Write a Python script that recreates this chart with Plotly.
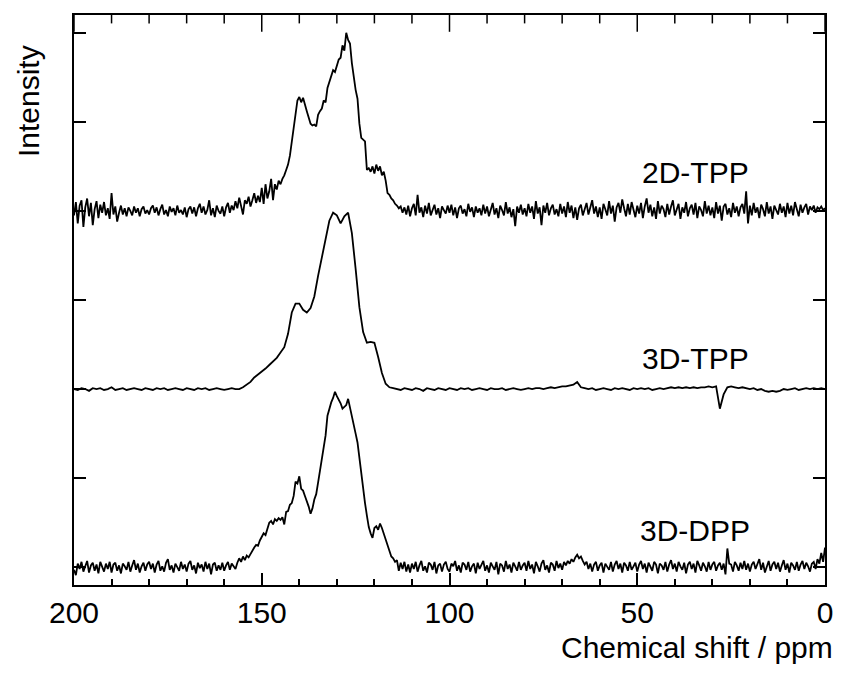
import plotly.graph_objects as go

# Chemical shift grids (ppm), 200 -> 0
ppm_fine = [200 - 0.5 * i for i in range(401)]     # 0.5 ppm steps
ppm_coarse = list(range(200, -1, -1))              # 1 ppm steps

# 2D-TPP, intensity above its own baseline, 0.5 ppm steps (200 -> 0)
tpp_2d = [
    -0.05, 0.10, -0.14, 0.06, 0.12, -0.18, 0.04, 0.14, -0.06, 0.09, -0.16, 0.02, 0.11, -0.08, 0.07, -0.02, 0.10, -0.05, 0.03, -0.09,  # 200-190.5
    0.20, -0.04, 0.05, -0.12, -0.02, 0.06, -0.04, 0.03, -0.06, 0.04, 0.00, -0.05, 0.05, -0.02, 0.03, -0.06, 0.02, 0.05, -0.03, 0.01,   # 190-180.5
    -0.04, 0.03, 0.06, -0.02, 0.04, -0.05, 0.02, 0.07, -0.04, 0.01, -0.06, 0.05, -0.01, 0.03, -0.05, 0.06, -0.02, 0.01, -0.04, 0.04,  # 180-170.5
    -0.07, 0.02, 0.05, -0.03, 0.04, -0.06, 0.03, 0.08, -0.02, 0.05, -0.04, 0.01, 0.12, -0.05, 0.03, -0.07, 0.06, 0.00, -0.03, 0.05,   # 170-160.5
    -0.06, 0.04, 0.09, -0.02, 0.06, 0.01, 0.11, 0.03, 0.15, 0.06, -0.04, 0.12, 0.08, 0.16, 0.05, 0.12, 0.20, 0.09, 0.17, 0.10,        # 160-150.5
    0.26, 0.08, 0.30, 0.14, 0.22, 0.36, 0.12, 0.30, 0.24, 0.34, 0.30, 0.36, 0.40, 0.46, 0.52, 0.62, 0.78, 0.98, 1.12, 1.24,          # 150-140.5
    1.28, 1.22, 1.27, 1.18, 1.12, 1.05, 0.98, 0.96, 0.97, 0.95, 1.08, 1.12, 1.15, 1.24, 1.22, 1.38, 1.44, 1.50, 1.58, 1.56,          # 140-130.5
    1.64, 1.70, 1.72, 1.86, 1.80, 2.00, 1.92, 1.88, 1.66, 1.50, 1.36, 1.26, 0.98, 0.82, 0.80, 0.78, 0.46, 0.48, 0.44, 0.50,          # 130-120.5
    0.42, 0.52, 0.45, 0.50, 0.40, 0.44, 0.34, 0.20, 0.18, 0.14, 0.12, 0.08, 0.06, 0.03, 0.05, -0.02, 0.04, -0.04, 0.06, -0.06,        # 120-110.5
    0.03, 0.08, -0.05, 0.18, -0.02, 0.04, -0.07, 0.06, -0.03, 0.09, -0.05, 0.02, 0.07, -0.04, 0.03, -0.08, 0.05, 0.01, -0.03, 0.06,   # 110-100.5
    -0.02, 0.07, -0.05, 0.04, -0.08, 0.03, 0.06, -0.03, 0.02, -0.06, 0.08, -0.01, 0.04, -0.07, 0.05, -0.02, 0.03, -0.05, 0.07, -0.03, # 100-90.5
    0.05, -0.06, 0.02, 0.09, -0.04, 0.03, -0.08, 0.06, 0.01, -0.05, 0.10, -0.03, 0.04, -0.07, 0.02, -0.17, 0.05, -0.02, 0.07, -0.04,  # 90-80.5
    0.03, -0.06, 0.08, -0.02, 0.05, -0.09, 0.11, -0.03, 0.04, -0.16, 0.06, -0.02, 0.09, -0.05, 0.03, 0.07, -0.04, 0.02, -0.06, 0.08,  # 80-70.5
    -0.03, 0.05, -0.07, 0.10, -0.02, 0.06, -0.08, 0.04, -0.10, 0.03, 0.07, -0.05, 0.02, 0.09, -0.04, 0.06, 0.12, -0.03, 0.05, -0.07,  # 70-60.5
    0.04, -0.09, 0.08, 0.02, -0.05, 0.11, -0.03, 0.06, -0.12, 0.04, 0.09, -0.02, 0.13, 0.03, -0.06, 0.08, -0.04, 0.10, 0.01, -0.07,   # 60-50.5
    0.06, -0.03, 0.09, -0.08, 0.05, 0.14, -0.02, 0.07, -0.06, 0.04, -0.09, 0.11, -0.03, 0.06, 0.02, -0.07, 0.08, -0.04, 0.05, 0.12,   # 50-40.5
    -0.05, 0.03, 0.08, -0.09, 0.04, -0.02, 0.10, -0.06, 0.03, 0.07, -0.04, 0.09, -0.08, 0.05, 0.01, -0.06, 0.11, -0.03, 0.06, -0.05,  # 40-30.5
    0.04, -0.08, 0.10, -0.03, 0.06, -0.11, 0.05, 0.08, -0.04, 0.03, -0.07, 0.09, -0.02, 0.05, -0.06, 0.04, 0.08, -0.03, 0.22, -0.14,  # 30-20.5
    0.06, -0.05, 0.09, -0.02, 0.04, -0.08, 0.07, 0.02, -0.06, 0.10, -0.03, 0.05, -0.09, 0.06, 0.01, -0.04, 0.08, -0.02, 0.05, -0.07,  # 20-10.5
    0.09, -0.03, 0.06, -0.05, 0.10, 0.02, -0.06, 0.07, -0.02, 0.04, 0.08, -0.04, 0.05, 0.01, 0.06, -0.02, 0.04, 0.02, 0.05, 0.01,     # 10-0.5
    0.03,                                                                                                                            # 0
]

# 3D-TPP, intensity above its own baseline, 1 ppm steps (200 -> 0)
tpp_3d = [
    0.00, -0.01, 0.01, 0.00, -0.02, 0.01, 0.00, 0.01, -0.01, 0.00,     # 200-191
    0.02, -0.01, 0.00, 0.01, -0.01, 0.00, 0.01, 0.00, -0.01, 0.01,     # 190-181
    0.00, -0.01, 0.01, 0.00, 0.01, -0.01, 0.00, 0.01, 0.00, -0.01,     # 180-171
    0.01, 0.00, -0.01, 0.01, 0.00, 0.01, -0.01, 0.00, 0.01, 0.00,      # 170-161
    -0.01, 0.00, 0.01, 0.00, 0.00, 0.02, 0.05, 0.08, 0.13, 0.16,       # 160-151
    0.19, 0.23, 0.27, 0.31, 0.35, 0.41, 0.47, 0.62, 0.86, 0.96,        # 150-141
    0.96, 0.89, 0.86, 0.91, 1.04, 1.27, 1.47, 1.68, 1.89, 1.98,        # 140-131
    1.95, 1.86, 1.94, 1.98, 1.75, 1.35, 0.92, 0.64, 0.52, 0.53,        # 130-121
    0.52, 0.36, 0.18, 0.06, 0.02, 0.01, 0.00, -0.01, 0.01, 0.00,       # 120-111
    -0.01, 0.01, 0.00, -0.02, 0.01, 0.00, -0.01, 0.01, 0.00, -0.01,    # 110-101
    0.01, 0.00, -0.01, 0.01, 0.00, 0.01, -0.01, 0.00, 0.01, 0.00,      # 100-91
    -0.01, 0.01, 0.00, 0.00, 0.01, -0.01, 0.00, 0.01, 0.00, -0.01,     # 90-81
    0.00, 0.01, 0.00, 0.01, 0.01, 0.00, 0.01, 0.02, 0.01, 0.02,        # 80-71
    0.03, 0.03, 0.04, 0.05, 0.08, 0.02, 0.01, 0.00, 0.01, -0.01,       # 70-61
    0.00, 0.01, 0.00, -0.01, 0.01, 0.00, 0.01, 0.00, -0.01, 0.01,      # 60-51
    0.00, 0.01, 0.00, 0.01, -0.01, 0.00, 0.01, 0.00, 0.01, 0.02,       # 50-41
    0.01, 0.02, 0.01, 0.02, 0.01, 0.02, 0.01, 0.02, 0.02, 0.03,        # 40-31
    0.02, 0.03, -0.22, -0.06, 0.02, 0.03, 0.02, 0.01, 0.02, 0.01,      # 30-21
    0.00, 0.01, -0.01, 0.00, -0.02, -0.03, -0.02, -0.03, -0.02, 0.00,  # 20-11
    -0.01, 0.00, 0.01, -0.01, 0.00, 0.01, 0.00, 0.01, 0.00, 0.01,      # 10-1
    0.00,                                                              # 0
]

# 3D-DPP, intensity above its own baseline, 0.5 ppm steps (200 -> 0)
dpp_3d = [
    -0.03, -0.09, 0.04, -0.02, 0.06, -0.05, 0.01, 0.07, -0.06, 0.02, 0.05, -0.04, 0.03, -0.07, 0.06, 0.00, -0.05, 0.04, -0.02, 0.06,  # 200-190.5
    -0.06, 0.03, 0.05, -0.04, 0.02, -0.07, 0.04, 0.01, -0.03, 0.06, -0.05, 0.02, 0.08, -0.03, 0.04, -0.06, 0.01, 0.05, -0.04, 0.03,   # 190-180.5
    0.06, -0.02, 0.04, -0.06, 0.03, 0.07, -0.04, 0.01, -0.05, 0.05, 0.09, -0.03, 0.02, -0.06, 0.04, 0.00, -0.04, 0.06, -0.02, 0.03,   # 180-170.5
    -0.05, 0.04, 0.07, -0.03, 0.02, -0.07, 0.05, -0.01, 0.03, -0.05, 0.06, -0.02, 0.04, -0.08, 0.03, 0.05, -0.04, 0.02, -0.03, 0.05,  # 170-160.5
    -0.04, 0.02, 0.06, -0.03, 0.04, 0.01, -0.02, 0.05, 0.10, 0.06, 0.12, 0.08, 0.13, 0.11, 0.15, 0.18, 0.22, 0.25, 0.24, 0.30,        # 160-150.5
    0.34, 0.38, 0.36, 0.44, 0.50, 0.52, 0.48, 0.54, 0.52, 0.55, 0.53, 0.56, 0.48, 0.62, 0.63, 0.70, 0.72, 0.80, 0.96, 0.94,          # 150-140.5
    1.02, 0.88, 0.86, 0.80, 0.75, 0.68, 0.60, 0.66, 0.76, 0.82, 0.95, 1.09, 1.22, 1.36, 1.48, 1.70, 1.78, 1.85, 1.90, 1.97,          # 140-130.5
    1.92, 1.88, 1.84, 1.78, 1.80, 1.82, 1.89, 1.80, 1.68, 1.62, 1.50, 1.40, 1.22, 1.05, 0.88, 0.72, 0.58, 0.45, 0.38, 0.33,          # 130-120.5
    0.44, 0.46, 0.42, 0.49, 0.44, 0.38, 0.32, 0.24, 0.19, 0.12, 0.10, 0.06, 0.08, -0.04, 0.05, -0.02, 0.06, -0.05, 0.03, -0.06,       # 120-110.5
    0.04, -0.02, 0.06, -0.05, 0.02, 0.07, -0.04, 0.01, -0.06, 0.05, 0.03, -0.03, 0.06, -0.07, 0.02, 0.04, -0.05, 0.03, 0.06, -0.02,   # 110-100.5
    -0.05, 0.04, 0.01, 0.07, -0.04, 0.02, -0.06, 0.05, 0.03, -0.03, 0.06, -0.05, 0.01, 0.04, -0.07, 0.05, -0.02, 0.03, 0.07, -0.04,   # 100-90.5
    0.02, -0.06, 0.05, 0.01, -0.03, 0.06, -0.08, 0.04, 0.02, -0.05, 0.07, -0.02, 0.03, -0.06, 0.05, 0.01, -0.04, 0.06, -0.03, 0.02,   # 90-80.5
    0.05, -0.04, 0.07, -0.02, 0.03, -0.07, 0.06, 0.01, -0.05, 0.04, 0.08, -0.03, 0.02, -0.06, 0.05, 0.03, -0.04, 0.07, -0.01, 0.04,   # 80-70.5
    -0.03, 0.06, 0.02, 0.07, 0.04, 0.09, 0.06, 0.11, 0.14, 0.10, 0.12, 0.07, 0.03, 0.06, -0.02, 0.04, -0.05, 0.03, 0.06, -0.04,       # 70-60.5
    0.02, 0.05, -0.06, 0.04, 0.01, -0.03, 0.06, -0.05, 0.03, 0.07, -0.02, 0.04, -0.06, 0.05, 0.02, -0.04, 0.06, -0.03, 0.01, 0.05,    # 60-50.5
    -0.05, 0.03, 0.07, -0.02, 0.04, -0.06, 0.05, 0.01, -0.04, 0.06, 0.03, -0.07, 0.04, 0.02, -0.03, 0.06, -0.05, 0.03, 0.08, -0.02,   # 50-40.5
    0.04, -0.05, 0.06, 0.01, -0.03, 0.05, -0.07, 0.03, 0.06, -0.02, 0.04, -0.06, 0.07, 0.02, -0.04, 0.05, 0.01, -0.05, 0.06, -0.03,   # 40-30.5
    0.03, 0.06, -0.04, 0.02, 0.05, -0.03, 0.04, -0.08, 0.21, 0.04, 0.03, -0.05, 0.06, 0.02, -0.04, 0.05, -0.02, 0.07, -0.03, 0.04,    # 30-20.5
    -0.05, 0.03, 0.06, -0.02, 0.04, 0.09, -0.03, 0.05, -0.06, 0.02, 0.07, -0.04, 0.03, 0.06, -0.02, 0.05, -0.05, 0.02, 0.08, -0.03,   # 20-10.5
    0.04, -0.06, 0.05, 0.02, -0.03, 0.06, -0.04, 0.03, 0.07, -0.02, 0.05, 0.01, -0.05, 0.04, 0.06, -0.02, 0.09, 0.04, 0.16, 0.06,     # 10-0.5
    0.22,                                                                                                                            # 0
]

assert len(tpp_2d) == len(ppm_fine), len(tpp_2d)
assert len(dpp_3d) == len(ppm_fine), len(dpp_3d)
assert len(tpp_3d) == len(ppm_coarse), len(tpp_3d)

names = ["2D-TPP", "3D-TPP", "3D-DPP"]
grids = [ppm_fine, ppm_coarse, ppm_fine]
series = [tpp_2d, tpp_3d, dpp_3d]
offsets = [4, 2, 0]              # vertical stacking of the spectra
label_lift = [0.43, 0.34, 0.41]  # sample names, height above each baseline
label_ppm = 34.5

x_major = [200, 150, 100, 50, 0]
x_major_text = ["200", "150", "100", "50", "0"]
x_minor = [190, 180, 170, 160, 140, 130, 120, 110, 90, 80, 70, 60, 40, 30, 20, 10]
y_range = [-0.2, 6.2]

FONT = "Liberation Sans, Arial, Helvetica, sans-serif"
FS = 30

fig = go.Figure()
for name, xs, vals, off, lift in zip(names, grids, series, offsets, label_lift):
    fig.add_trace(go.Scatter(
        x=xs, y=[v + off for v in vals], mode="lines", name=name,
        line=dict(color="black", width=1.8), showlegend=False,
    ))
    fig.add_annotation(x=label_ppm, y=off + lift, text=name, showarrow=False,
                       xanchor="center", yanchor="middle",
                       font=dict(family=FONT, size=FS, color="black"))

# inward tick marks along the top frame edge (half of each marker is clipped away)
for vals, msize in ((x_major, 24), (x_minor, 12)):
    fig.add_trace(go.Scatter(
        x=vals, y=[y_range[1]] * len(vals), mode="markers",
        marker=dict(symbol="line-ns", size=msize, color="black",
                    line=dict(width=1.5, color="black")),
        cliponaxis=True, hoverinfo="skip", showlegend=False,
    ))

fig.add_annotation(xref="paper", yref="paper", x=1.013, y=-0.109,
                   text="Chemical shift / ppm", showarrow=False,
                   xanchor="right", yanchor="middle",
                   font=dict(family=FONT, size=FS, color="black"))
fig.add_annotation(xref="paper", yref="paper", x=-0.0613, y=0.849,
                   text="Intensity", showarrow=False, textangle=-90,
                   xanchor="center", yanchor="middle",
                   font=dict(family=FONT, size=FS, color="black"))

fig.update_layout(
    width=844, height=673,
    margin=dict(l=74, r=19, t=15, b=88),
    paper_bgcolor="white", plot_bgcolor="white",
    font=dict(family=FONT, size=FS, color="black"),
    xaxis=dict(
        range=[200, 0], tickvals=x_major, ticktext=x_major_text,
        ticks="inside", ticklen=12, tickwidth=1.5, tickcolor="black",
        minor=dict(dtick=10, ticks="inside", ticklen=6, tickwidth=1.5, tickcolor="black"),
        showline=True, linecolor="black", linewidth=2, mirror=True,
        showgrid=False, zeroline=False,
        tickfont=dict(family=FONT, size=FS, color="black"),
    ),
    yaxis=dict(
        range=y_range, dtick=1, tick0=0, showticklabels=False,
        ticks="inside", ticklen=12, tickwidth=1.5, tickcolor="black",
        showline=True, linecolor="black", linewidth=2, mirror="allticks",
        showgrid=False, zeroline=False,
    ),
)

fig.write_html("out.html")
